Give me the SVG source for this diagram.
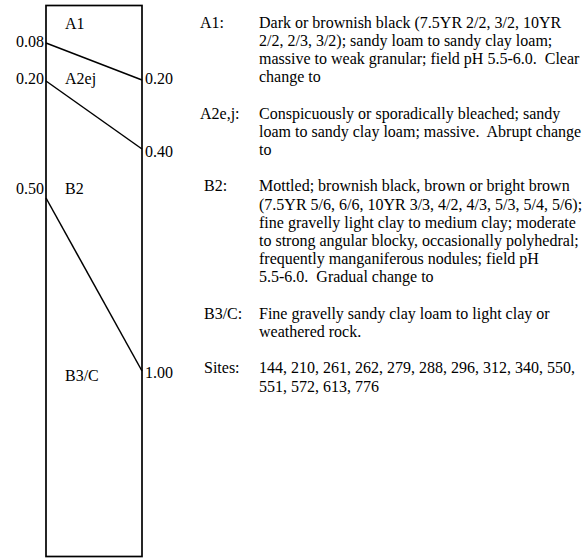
<svg xmlns="http://www.w3.org/2000/svg" width="585" height="558" viewBox="0 0 585 558">
  <style>
    text { font-family: "Liberation Serif", "Times New Roman", serif; font-size: 16px; fill: #000; white-space: pre; }
    .end { text-anchor: end; }
    .box { fill: #fff; stroke: #000; stroke-width: 1.7; }
    .bnd { stroke: #000; stroke-width: 1.5; fill: none; }
  </style>
  <rect width="585" height="558" fill="#fff"/>

  <!-- soil profile column -->
  <g id="profile">
    <rect class="box" x="46" y="5.5" width="96" height="551"/>
  </g>

  <!-- horizon boundaries -->
  <g id="boundaries">
    <line class="bnd" x1="46" y1="43" x2="142" y2="80"/>
    <line class="bnd" x1="46" y1="81" x2="142" y2="149"/>
    <line class="bnd" x1="46" y1="198" x2="142" y2="371"/>
  </g>

  <!-- horizon names inside the column -->
  <g id="horizon-A1"><text x="65" y="29">A1</text></g>
  <g id="horizon-A2ej"><text x="65" y="84">A2ej</text></g>
  <g id="horizon-B2"><text x="65" y="194">B2</text></g>
  <g id="horizon-B3C"><text x="65" y="381">B3/C</text></g>

  <!-- depth marks (m) -->
  <g id="depths">
    <text class="end" x="44" y="47">0.08</text>
    <text class="end" x="44" y="84">0.20</text>
    <text class="end" x="44" y="194">0.50</text>
    <text x="145" y="84">0.20</text>
    <text x="145" y="157">0.40</text>
    <text x="145" y="378">1.00</text>
  </g>

  <!-- horizon descriptions, 18.2px line pitch -->
  <g id="desc-A1">
    <text x="200" y="27.5">A1:</text>
    <text x="259" y="27.5">Dark or brownish black (7.5YR 2/2, 3/2, 10YR</text>
    <text x="259" y="45.7">2/2, 2/3, 3/2); sandy loam to sandy clay loam;</text>
    <text x="259" y="63.9">massive to weak granular; field pH 5.5-6.0.  Clear</text>
    <text x="259" y="82.1">change to</text>
  </g>
  <g id="desc-A2ej">
    <text x="200" y="118.5">A2e,j:</text>
    <text x="259" y="118.5">Conspicuously or sporadically bleached; sandy</text>
    <text x="259" y="136.7">loam to sandy clay loam; massive.  Abrupt change</text>
    <text x="259" y="154.9">to</text>
  </g>
  <g id="desc-B2">
    <text x="204" y="191.3">B2:</text>
    <text x="259" y="191.3">Mottled; brownish black, brown or bright brown</text>
    <text x="259" y="209.5">(7.5YR 5/6, 6/6, 10YR 3/3, 4/2, 4/3, 5/3, 5/4, 5/6);</text>
    <text x="259" y="227.7">fine gravelly light clay to medium clay; moderate</text>
    <text x="259" y="245.9">to strong angular blocky, occasionally polyhedral;</text>
    <text x="259" y="264.1">frequently manganiferous nodules; field pH</text>
    <text x="259" y="282.3">5.5-6.0.  Gradual change to</text>
  </g>
  <g id="desc-B3C">
    <text x="204" y="318.7">B3/C:</text>
    <text x="259" y="318.7">Fine gravelly sandy clay loam to light clay or</text>
    <text x="259" y="336.9">weathered rock.</text>
  </g>
  <g id="sites">
    <text x="204" y="373.3">Sites:</text>
    <text x="259" y="373.3">144, 210, 261, 262, 279, 288, 296, 312, 340, 550,</text>
    <text x="259" y="391.5">551, 572, 613, 776</text>
  </g>
</svg>
